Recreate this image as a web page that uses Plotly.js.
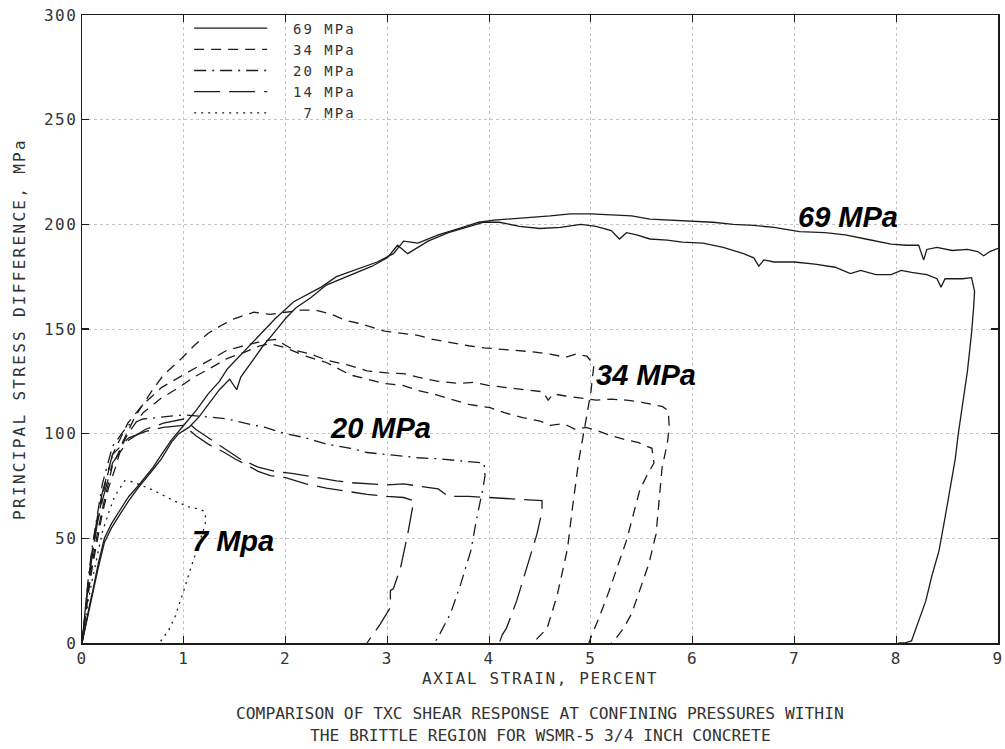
<!DOCTYPE html>
<html>
<head>
<meta charset="utf-8">
<script src="https://cdn.plot.ly/plotly-3.0.1.min.js"></script>
<style>
  html, body { margin: 0; padding: 0; background: #fff; }
  #chart { width: 1005px; height: 749px; }
  .legendtext { letter-spacing: 2px; }
  .xtick text, .ytick text { letter-spacing: 1.5px; }
  .xtitle { letter-spacing: 1.6px; }
  .ytitle { letter-spacing: 2.3px; }
</style>
</head>
<body>
<div id="chart"></div>
<script>
// ---- data (axial strain %, principal stress difference MPa) ----
const legendNames = ["\u00a0\u00a069 MPa", "\u00a0\u00a034 MPa", "\u00a0\u00a020 MPa", "\u00a0\u00a014 MPa", "\u00a0\u00a0\u00a07 MPa"];

const strain69a = [0, 0.03, 0.07, 0.11, 0.16, 0.22, 0.29, 0.38, 0.46, 0.55, 0.62, 0.70, 0.78, 0.88, 1.00, 1.12, 1.24, 1.35, 1.43, 1.55, 1.66, 1.78, 1.90, 2.08, 2.20, 2.35, 2.50, 2.62, 2.74, 2.90, 3.06, 3.16, 3.30, 3.50, 3.70, 3.90, 4.05, 4.20, 4.40, 4.60, 4.80, 5.00, 5.20, 5.40, 5.58, 5.80, 6.00, 6.20, 6.40, 6.60, 6.80, 7.05, 7.30, 7.50, 7.70, 7.95, 8.10, 8.22, 8.27, 8.30, 8.40, 8.55, 8.70, 8.80, 8.86, 8.92, 9.00];
const stress69a = [0, 8, 17, 26, 38, 50, 57, 64, 70, 75, 79, 84, 90, 97, 104, 111, 119, 125, 131, 137, 143, 149, 155, 163, 166, 170, 175, 177, 179, 182, 186, 192, 191, 195, 198, 201, 202, 202.5, 203.5, 204, 205, 205, 204.5, 204, 202.5, 202, 201.5, 201, 200, 199.5, 198.5, 196.5, 196, 195, 193, 190.5, 190, 190, 183, 188, 189, 187.5, 188, 187, 185, 187, 188.5];

const strain69b = [0, 0.03, 0.07, 0.11, 0.16, 0.22, 0.29, 0.38, 0.46, 0.55, 0.62, 0.70, 0.78, 0.88, 0.95, 1.05, 1.15, 1.24, 1.35, 1.45, 1.52, 1.56, 1.66, 1.78, 1.90, 2.00, 2.10, 2.25, 2.40, 2.55, 2.70, 2.85, 3.00, 3.10, 3.20, 3.40, 3.60, 3.80, 3.95, 4.10, 4.30, 4.50, 4.70, 4.90, 5.05, 5.20, 5.28, 5.35, 5.45, 5.58, 5.75, 5.90, 6.10, 6.30, 6.50, 6.60, 6.65, 6.70, 6.80, 7.00, 7.20, 7.40, 7.55, 7.65, 7.80, 7.95, 8.05, 8.15, 8.30, 8.40, 8.44, 8.48, 8.55, 8.65, 8.74, 8.77, 8.76, 8.74, 8.70, 8.64, 8.61, 8.58, 8.54, 8.48, 8.42, 8.35, 8.29, 8.22, 8.15, 8.08, 8.02];
const stress69b = [0, 7, 15, 24, 36, 48, 55, 62, 68, 74, 78, 83, 88, 96, 100, 103, 108, 114, 121, 126, 121, 127, 134, 142, 149, 155, 160, 165, 171, 174, 177, 180, 184, 190, 186, 192, 196, 199, 201, 201, 199, 198, 198.5, 200, 199, 197, 193, 196, 195, 193, 192.5, 191.5, 191, 189, 186, 184, 180, 183, 182, 182, 181, 179.5, 176.5, 178, 176, 176, 178, 177, 176, 174, 170, 174, 174, 174, 174.5, 168, 160, 148, 130, 111, 100, 88, 76, 60, 44, 32, 20, 10, 1, 0, 0];

const strain34a = [0, 0.03, 0.06, 0.10, 0.15, 0.20, 0.26, 0.33, 0.40, 0.52, 0.60, 0.68, 0.80, 0.98, 1.10, 1.24, 1.38, 1.50, 1.69, 1.85, 2.00, 2.15, 2.30, 2.45, 2.60, 2.74, 2.97, 3.16, 3.30, 3.45, 3.62, 3.80, 3.95, 4.10, 4.27, 4.45, 4.60, 4.75, 4.85, 4.96, 5.03, 5.00, 4.95, 4.88, 4.82, 4.77, 4.67, 4.57, 4.43];
const stress34a = [0, 12, 24, 36, 50, 62, 74, 84, 96, 108, 114, 120, 128, 136, 142, 148, 152, 155, 158, 157, 158, 159, 159, 157, 154, 152.5, 149, 148, 147, 145, 143.5, 142, 141, 140.5, 139.7, 139, 138, 136.5, 138, 137, 133, 120, 106, 87, 65, 45, 23, 7, 0];

const strain34b = [0, 0.03, 0.06, 0.10, 0.15, 0.20, 0.30, 0.45, 0.60, 0.78, 0.95, 1.10, 1.25, 1.43, 1.60, 1.75, 1.90, 2.08, 2.25, 2.41, 2.60, 2.80, 3.00, 3.16, 3.30, 3.50, 3.70, 3.85, 4.00, 4.20, 4.40, 4.53, 4.58, 4.63, 4.75, 4.93, 5.05, 5.20, 5.35, 5.50, 5.60, 5.70, 5.76, 5.77, 5.75, 5.70, 5.64, 5.57, 5.50, 5.40, 5.32, 5.25, 5.20];
const stress34b = [0, 14, 28, 42, 58, 70, 90, 105, 114, 122, 127, 131, 135, 140, 142, 144, 145, 140, 138, 135, 133, 130, 129, 128.7, 127, 125, 124, 124.5, 123, 122, 121, 120, 116, 119, 118, 117, 116, 116.5, 116, 115, 114, 113, 111, 103, 95, 84, 52, 38, 28, 14, 7, 2.5, 0];

const strain34c = [0, 0.03, 0.06, 0.10, 0.15, 0.20, 0.30, 0.45, 0.60, 0.78, 0.95, 1.10, 1.25, 1.43, 1.60, 1.75, 1.85, 2.00, 2.20, 2.40, 2.64, 2.80, 2.97, 3.16, 3.30, 3.45, 3.62, 3.80, 4.01, 4.15, 4.33, 4.50, 4.60, 4.73, 4.85, 4.95, 5.06, 5.20, 5.35, 5.47, 5.55, 5.60, 5.62, 5.55, 5.48, 5.35, 5.18, 5.08, 5.01, 4.98];
const stress34c = [0, 12, 24, 38, 52, 64, 85, 100, 110, 117, 122, 127, 131, 136, 139, 142, 143, 141, 137, 134, 128, 126, 124, 123, 120.6, 119, 116.7, 114, 112.4, 110, 107.7, 106, 104, 104.8, 102, 103, 101.5, 99, 97, 95.7, 94, 93, 86, 80, 73, 49, 25, 12, 4, 0];

const strain20a = [0, 0.03, 0.06, 0.10, 0.15, 0.20, 0.30, 0.45, 0.60, 0.80, 1.00, 1.24, 1.43, 1.60, 1.80, 2.00, 2.20, 2.40, 2.64, 2.80, 3.00, 3.16, 3.30, 3.50, 3.70, 3.85, 3.95, 3.96, 3.94, 3.88, 3.82, 3.72, 3.62, 3.49, 3.46];
const stress20a = [0, 16, 30, 46, 62, 76, 94, 104, 107, 108, 109, 108, 107, 105, 103, 100, 98, 95, 93, 91, 90, 89, 88.5, 88, 87, 86.5, 86, 80, 74, 60, 44, 28, 14, 2, 0];

const strain14a = [0, 0.03, 0.06, 0.10, 0.15, 0.20, 0.30, 0.46, 0.62, 0.80, 1.00, 1.12, 1.24, 1.40, 1.50, 1.62, 1.73, 1.85, 2.00, 2.20, 2.40, 2.60, 2.80, 3.00, 3.16, 3.26, 3.20, 3.13, 3.06, 3.03, 3.03, 2.93, 2.80];
const stress14a = [0, 15, 29, 44, 60, 72, 90, 98, 101, 103, 104, 99, 95, 91, 88, 85, 82, 80, 79, 76, 74, 72.5, 71, 70, 69.5, 68, 52, 36, 26, 25, 17, 9, 0];

const strain14b = [0, 0.03, 0.06, 0.10, 0.15, 0.20, 0.30, 0.46, 0.62, 0.80, 1.00, 1.12, 1.24, 1.40, 1.55, 1.73, 1.90, 2.06, 2.30, 2.50, 2.64, 2.80, 3.00, 3.16, 3.30, 3.50, 3.60, 3.80, 4.00, 4.20, 4.40, 4.52, 4.52, 4.47, 4.37, 4.27, 4.17, 4.13, 4.10];
const stress14b = [0, 14, 27, 42, 57, 68, 86, 97, 102, 105, 107, 102, 98, 93, 88, 84, 82, 81, 79, 77.5, 76.6, 76, 75.5, 76, 75, 73.6, 70, 70, 69.5, 69, 68.5, 68, 63, 52, 36, 20, 7, 4, 0];

const strain7a = [0, 0.03, 0.06, 0.10, 0.15, 0.20, 0.26, 0.32, 0.42, 0.50, 0.60, 0.70, 0.78, 0.90, 1.05, 1.15, 1.20, 1.22, 1.20, 1.15, 1.10, 1.05, 1.00, 0.95, 0.91, 0.85, 0.78, 0.76];
const stress7a = [0, 10, 20, 30, 42, 53, 62, 70, 77.5, 77, 75, 73, 71, 68, 65, 64, 63, 59, 55, 48, 41, 33, 25, 18, 12, 6, 1, 0];

const xTickVals = [0, 1, 2, 3, 4, 5, 6, 7, 8, 9];
const yTickVals = [0, 50, 100, 150, 200, 250, 300];

const curveLabels = ["69 MPa", "34 MPa", "20 MPa", "7 Mpa"];
const curveLabelX = [7.53, 5.54, 2.93, 1.48];
const curveLabelY = [203.5, 128, 102.7, 48.7];

const captionLines = [
  "COMPARISON OF TXC SHEAR RESPONSE AT CONFINING PRESSURES WITHIN",
  "THE BRITTLE REGION FOR WSMR-5 3/4 INCH CONCRETE"
];

// ---- styles ----
const ink = "#1c1c1c";
const textInk = "#333";
const mono = "DejaVu Sans Mono, Liberation Mono, monospace";
const dashes = {
  g69: "solid",
  g34: "10px,7px",
  g20: "12px,6px,2px,6px",
  g14: "26px,9px",
  g7: "2px,5px"
};

function curve(x, y, group, name, show) {
  return {
    type: "scatter", mode: "lines", x: x, y: y,
    name: name, legendgroup: group, showlegend: show,
    line: { color: ink, width: 1.3, dash: dashes[group] },
    hoverinfo: "skip"
  };
}

const traces = [
  curve(strain69a, stress69a, "g69", legendNames[0], true),
  curve(strain69b, stress69b, "g69", legendNames[0], false),
  curve(strain34a, stress34a, "g34", legendNames[1], true),
  curve(strain34b, stress34b, "g34", legendNames[1], false),
  curve(strain34c, stress34c, "g34", legendNames[1], false),
  curve(strain20a, stress20a, "g20", legendNames[2], true),
  curve(strain14a, stress14a, "g14", legendNames[3], true),
  curve(strain14b, stress14b, "g14", legendNames[3], false),
  curve(strain7a, stress7a, "g7", legendNames[4], true)
];

const annotations = curveLabels.map((t, i) => ({
  text: t, x: curveLabelX[i], y: curveLabelY[i], xref: "x", yref: "y",
  showarrow: false, xanchor: "center", yanchor: "middle",
  font: { family: "Liberation Sans, Arial, sans-serif", size: 29, color: "#000", weight: "bold", style: "italic" }
}));
const captionY = [-0.1115, -0.148];
captionLines.forEach((t, i) => annotations.push({
  text: t, xref: "paper", yref: "paper", x: 0.5, y: captionY[i],
  xanchor: "center", yanchor: "middle", showarrow: false,
  font: { family: mono, size: 16.3, color: textInk }
}));

const axisCommon = {
  showline: true, linecolor: ink, linewidth: 1.5, mirror: "ticks",
  ticks: "inside", ticklen: 7, tickwidth: 1.2, tickcolor: ink,
  showgrid: true, gridcolor: "#c6c6c6", griddash: "dot", gridwidth: 1,
  zeroline: false, fixedrange: true, ticklabeloverflow: "allow",
  tickfont: { family: mono, size: 16, color: textInk }
};

const layout = {
  width: 1005, height: 749,
  margin: { l: 82, r: 7, t: 15, b: 106 },
  paper_bgcolor: "#fff", plot_bgcolor: "#fff",
  showlegend: true,
  legend: {
    x: 0.117, y: 1.004, xanchor: "left", yanchor: "top",
    bgcolor: "rgba(0,0,0,0)", borderwidth: 0,
    font: { family: mono, size: 14, color: textInk },
    tracegroupgap: 0, itemwidth: 73, traceorder: "grouped"
  },
  xaxis: Object.assign({}, axisCommon, {
    range: [0, 9], tickvals: xTickVals,
    title: { text: "AXIAL STRAIN, PERCENT", standoff: 6, font: { family: mono, size: 16, color: textInk } }
  }),
  yaxis: Object.assign({}, axisCommon, {
    range: [0, 300], tickvals: yTickVals,
    title: { text: "PRINCIPAL STRESS DIFFERENCE, MPa", standoff: 14, font: { family: mono, size: 16, color: textInk } }
  }),
  annotations: annotations
};

Plotly.newPlot("chart", traces, layout, { displayModeBar: false, staticPlot: true });
</script>
</body>
</html>
